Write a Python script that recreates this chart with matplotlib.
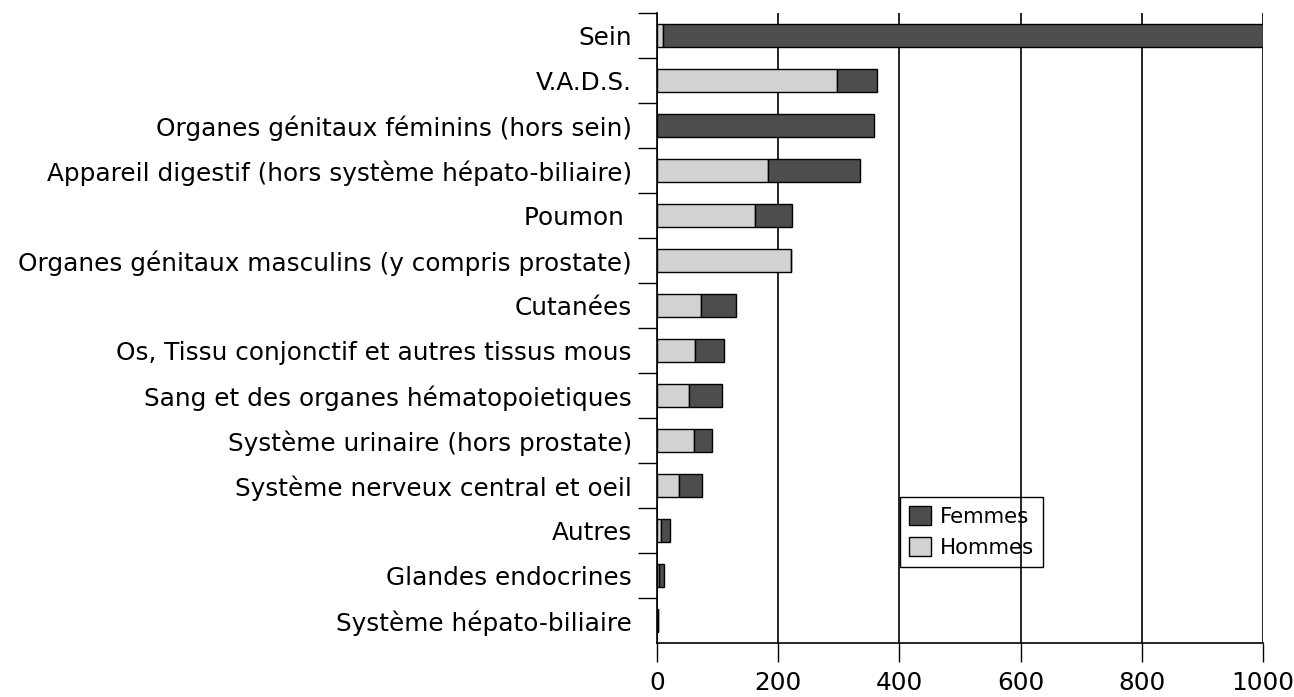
import matplotlib.pyplot as plt
import numpy as np

# categories, top to bottom
categories = [
    'Sein',
    'V.A.D.S.',
    'Organes génitaux féminins (hors sein)',
    'Appareil digestif (hors système hépato-biliaire)',
    'Poumon ',
    'Organes génitaux masculins (y compris prostate)',
    'Cutanées',
    'Os, Tissu conjonctif et autres tissus mous',
    'Sang et des organes hématopoietiques',
    'Système urinaire (hors prostate)',
    'Système nerveux central et oeil',
    'Autres',
    'Glandes endocrines',
    'Système hépato-biliaire',
]
hommes = [10, 297, 0, 183, 162, 221, 72, 63, 53, 61, 37, 7, 4, 1]
femmes = [990, 66, 358, 152, 60, 0, 58, 47, 55, 30, 37, 15, 8, 1]
xticks = [0, 200, 400, 600, 800, 1000]

plt.rcParams['font.family'] = 'DejaVu Sans'

fig = plt.figure(figsize=(12.94, 6.97), dpi=100)
ax = fig.add_axes([657 / 1294, 1 - 643 / 697, (1263 - 657) / 1294, (643 - 13) / 697])

n = len(categories)
y = np.arange(n)[::-1]
ax.barh(y, hommes, height=0.5, color='#d2d2d2', edgecolor='black', linewidth=1.0,
        label='Hommes', zorder=2)
ax.barh(y, femmes, left=hommes, height=0.5, color='#4d4d4d', edgecolor='black',
        linewidth=1.0, label='Femmes', zorder=2)

ax.set_xlim(0, 1000)
ax.set_ylim(-0.5, n - 0.5)

# category labels between boundary ticks (no tick at the bottom corner)
ax.set_yticks(np.arange(1, n + 1) - 0.5)
ax.set_yticklabels([])
ax.set_yticks(y, minor=True)
ax.set_yticklabels(categories, minor=True, fontsize=17.8)
ax.tick_params(axis='y', which='major', length=14, width=1, direction='out')
ax.tick_params(axis='y', which='minor', length=0, pad=18)

ax.set_xticks(xticks)
ax.set_xticklabels([str(v) for v in xticks], fontsize=17.8)
ax.tick_params(axis='x', length=14, width=1, direction='out', pad=6)

ax.grid(axis='x', color='black', linewidth=1.2)
ax.set_axisbelow('line')

for s in ['top', 'right']:
    ax.spines[s].set_visible(False)
for s in ['left', 'bottom']:
    ax.spines[s].set_linewidth(1.2)

handles, labels = ax.get_legend_handles_labels()
leg = ax.legend(handles[::-1], labels[::-1], loc='upper left',
                bbox_to_anchor=((900 - 657) / 606, 1 - (497 - 13) / 630),
                fontsize=15.3, frameon=True, fancybox=False, edgecolor='black',
                framealpha=1, handlelength=1.05, handleheight=1.0,
                handletextpad=0.4, borderpad=0.42, labelspacing=0.5,
                borderaxespad=0)
leg.set_zorder(1)
leg.get_frame().set_linewidth(1.0)

fig.savefig('out.png', dpi=100)
